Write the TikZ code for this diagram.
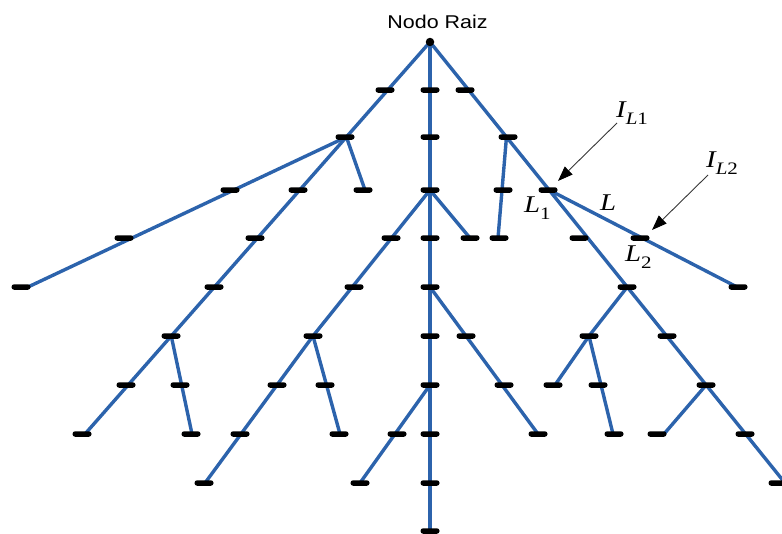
\documentclass[tikz,border=0pt]{standalone}
\usepackage{fontspec}
\setmainfont{Liberation Sans}
\newfontfamily\tmsfont{Liberation Serif}
\usetikzlibrary{calc,arrows.meta}
\definecolor{linkblue}{RGB}{44,99,172}
\definecolor{arrgray}{RGB}{55,55,55}
\newcommand{\lsub}[2]{\raisebox{-7pt}{\fontsize{17.5}{17.5}\selectfont\itshape #1\upshape #2}}
\tikzset{
  feeder/.style={draw=linkblue, line width=3.4pt, line cap=round, line join=round},
  busbar/.style={rectangle, fill=black, inner sep=0pt, minimum width=19pt, minimum height=5.5pt, rounded corners=2.6pt},
  pointer/.style={draw=arrgray, line width=0.9pt, -{Triangle[length=15pt,width=11pt,color=black]}},
  lbl/.style={inner sep=0pt, anchor=base west, font=\tmsfont\itshape\fontsize{24}{24}\selectfont},
}
\begin{document}
\begin{tikzpicture}[x=1pt,y=-1pt]
\useasboundingbox (0,0) rectangle (782,533);
\clip (0,0) rectangle (782,533);
% main points
\coordinate (root) at (430,42);
\coordinate (trunkend) at (430,536);
\coordinate (RE) at (785,483);
\coordinate (LE) at (85,434);
\coordinate (m2) at ($(root)!95/441!(RE)$);
\coordinate (L1) at ($(root)!148/441!(RE)$);
\coordinate (p2) at ($(root)!245/441!(RE)$);
\coordinate (p4) at ($(root)!343/441!(RE)$);
\coordinate (a2) at ($(root)!95/392!(LE)$);
\coordinate (d4) at ($(root)!294/392!(LE)$);
\coordinate (c3) at (430,190);
\coordinate (c5) at (430,287);
\coordinate (c7) at (430,385);
\coordinate (f3) at (313,336);
\coordinate (FE) at (205,483);
\coordinate (s1) at (589,336);
% free ends
\coordinate (b3e) at (28,287);
\coordinate (e1e) at (365,190);
\coordinate (f8e) at (340,434);
\coordinate (g1e) at (470,238);
\coordinate (d8e) at (192,434);
\coordinate (n2e) at (498,238);
\coordinate (h3e) at (538,434);
\coordinate (k2e) at (360,483);
\coordinate (q1e) at (737,287);
\coordinate (s2e) at (555,385);
\coordinate (s4e) at (613,434);
\coordinate (t1e) at (664,434);
% feeders
\draw[feeder] (root) -- (trunkend);
\draw[feeder] (root) -- (RE);
\draw[feeder] (root) -- (LE);
\draw[feeder] (a2) -- (b3e);
\draw[feeder] (a2) -- (e1e);
\draw[feeder] (c3) -- (f3) -- (FE);
\draw[feeder] (f3) -- (f8e);
\draw[feeder] (c3) -- (g1e);
\draw[feeder] (d4) -- (d8e);
\draw[feeder] (m2) -- (n2e);
\draw[feeder] (c5) -- (h3e);
\draw[feeder] (c7) -- (k2e);
\draw[feeder] (L1) -- (q1e);
\draw[feeder] (p2) -- (s1) -- (s2e);
\draw[feeder] (s1) -- (s4e);
\draw[feeder] (p4) -- (t1e);
% bus bars
\foreach \bx/\by in {430/90,430/137,430/190,430/238,430/287,430/336,430/385,430/434,430/483,430/531,
  385/90,465/90,345/137,508/137,
  230/190,298/190,363/190,503/190,548/190,
  124/238,255/238,391/238,470/238,499/238,579/238,640/238,
  21/287,214/287,354/287,627/287,738/287,
  171/336,313/336,466/336,589/336,667/336,
  126/385,180/385,277/385,325/385,504/385,553/385,598/385,706/385,
  82/434,191/434,240/434,339/434,397/434,538/434,614/434,657/434,745/434,
  204/483,360/483,778/483}
  \node[busbar] (bus-\bx-\by) at (\bx,\by) {};
% root
\node[circle, fill=black, inner sep=0pt, minimum size=8.5pt] (rootdot) at (root) {};
\node[anchor=base, inner sep=0pt, font=\fontsize{18.5}{18.5}\selectfont] (rootlbl) at (437.5,28) {\scalebox{1.16}[1]{Nodo Raiz}};
% labels
\node[lbl] (lblIL1) at (616,117) {\scalebox{1.2}[1]{I\lsub{L}{1}}};
\node[lbl] (lblIL2) at (706,167) {\scalebox{1.2}[1]{I\lsub{L}{2}}};
\node[lbl] (lblL1) at (524,212) {\scalebox{1.2}[1]{L\lsub{}{1}}};
\node[lbl] (lblL) at (600,210) {\scalebox{1.2}[1]{L}};
\node[lbl] (lblL2) at (625,261) {\scalebox{1.2}[1]{L\lsub{}{2}}};
% pointers
\coordinate (ar1s) at (617,123);
\coordinate (ar1e) at (558,181);
\coordinate (ar2s) at (708,175);
\coordinate (ar2e) at (652,230);
\draw[pointer] (ar1s) -- (ar1e);
\draw[pointer] (ar2s) -- (ar2e);
\end{tikzpicture}
\end{document}
